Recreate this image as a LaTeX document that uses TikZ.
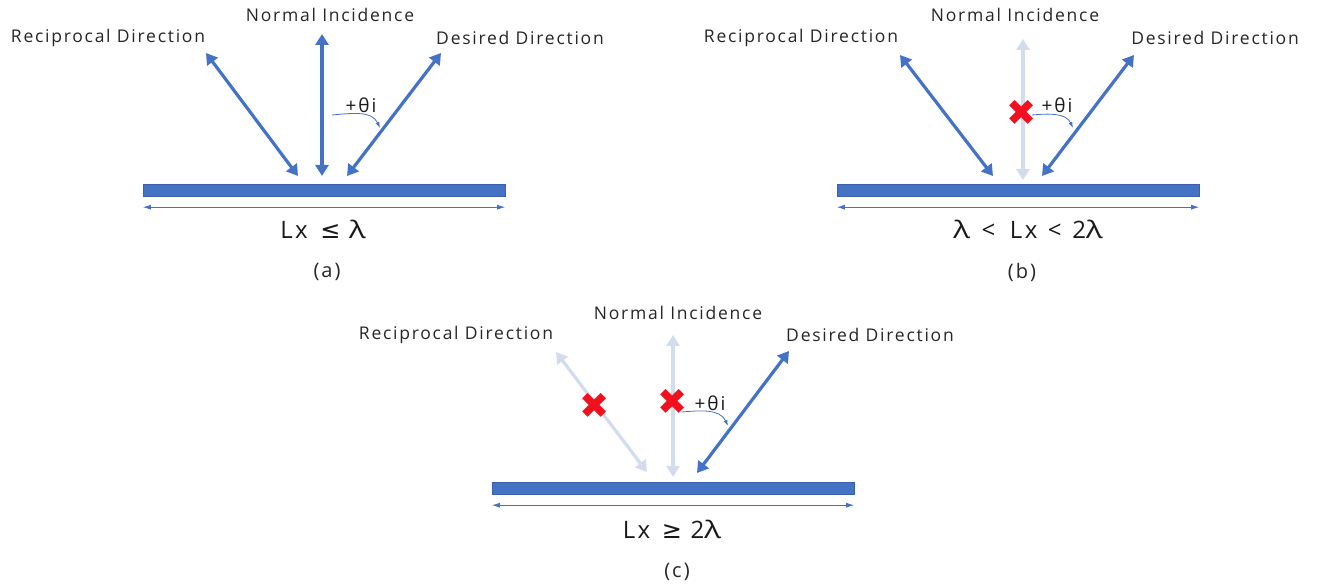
\documentclass[tikz,border=0pt]{standalone}
\usepackage{fontspec}
\setmainfont{Open Sans}
\newfontfamily\spacedfont[LetterSpace=10]{Open Sans}
\newfontfamily\dvsfont{DejaVu Sans}
\usetikzlibrary{arrows.meta, positioning}

\definecolor{barblue}{HTML}{4472C4}
\definecolor{fadeblue}{HTML}{D3DCEC}
\definecolor{crossred}{HTML}{F0101E}

\newcommand{\widelam}{\scalebox{1.3}[1]{λ}}

\begin{document}
\begin{tikzpicture}[
  x=1pt, y=1pt,
  bar/.style={rectangle, fill=barblue, draw=barblue!85!black, line width=0.4pt, minimum width=362pt, minimum height=12pt, inner sep=0pt},
  ray/.style={{Triangle[length=11pt,width=13pt]}-{Triangle[length=11pt,width=13pt]}, line width=3.2pt, barblue},
  blocked/.style={ray, fadeblue},
  dimline/.style={{Latex[length=8pt,width=5pt]}-{Latex[length=8pt,width=5pt]}, line width=0.9pt, barblue},
  swing/.style={-{Latex[length=6pt,width=4pt]}, line width=0.8pt, barblue},
  dirlabel/.style={font=\spacedfont\fontsize{17.5}{20}\selectfont, text=black!85},
  anglabel/.style={font=\spacedfont\fontsize{19}{22}\selectfont, text=black!90},
  caseline/.style={font=\spacedfont\fontsize{24}{28}\selectfont, text=black!90},
  caption/.style={font=\spacedfont\fontsize{20}{24}\selectfont, text=black!85},
  nope/.style={text=crossred, font=\dvsfont\fontsize{36}{36}\selectfont, inner sep=0pt}
]
\useasboundingbox (0,0) rectangle (1320,587);

% (a)
\begin{scope}[shift={(143,403)}]
\node[bar] (bara) at (181,-6) {};
\draw[dimline] ([yshift=-11pt]bara.south west) -- ([yshift=-11pt]bara.south east);
\node[caseline] (casea) at (180,-45) {Lx\, {\dvsfont ≤} \widelam};
\node[caption] (capa) at (184,-88) {(a)};
\coordinate (na0) at (179,8);
\coordinate (na1) at (179,150);
\coordinate (ra0) at (155,8);
\coordinate (ra1) at (63,131);
\coordinate (da0) at (204,8);
\coordinate (da1) at (298,131);
\draw[ray] (na0) -- (na1);
\draw[ray] (ra0) -- (ra1);
\draw[ray] (da0) -- (da1);
\node[dirlabel] (norma) at (187,169) {Normal Incidence};
\node[dirlabel] (recia) at (-35,146) {Reciprocal Direction};
\node[dirlabel] (desa) at (377,146) {Desired Direction};
\node[anglabel] (tha) at (218,79) {+θi};
\coordinate (swa0) at (189,69);
\coordinate (swa1) at (237,56);
\draw[swing] (swa0) to[out=5, in=115] (swa1);
\end{scope}

% (b)
\begin{scope}[shift={(837,403)}]
\node[bar] (barb) at (181,-6) {};
\draw[dimline] ([yshift=-11pt]barb.south west) -- ([yshift=-11pt]barb.south east);
\node[caseline] (caseb) at (191,-45) {\widelam\hspace{3pt} < \hspace{6pt}Lx\hspace{2pt} < \hspace{2pt}2\widelam};
\node[caption] (capb) at (185,-88) {(b)};
\coordinate (nb0) at (186,4);
\coordinate (nb1) at (186,145);
\coordinate (rb0) at (156,8);
\coordinate (rb1) at (63,129);
\coordinate (db0) at (205,8);
\coordinate (db1) at (297,129);
\draw[blocked] (nb0) -- (nb1);
\draw[ray] (rb0) -- (rb1);
\draw[ray] (db0) -- (db1);
\node[dirlabel] (normb) at (178,169) {Normal Incidence};
\node[dirlabel] (recib) at (-36,146) {Reciprocal Direction};
\node[dirlabel] (desb) at (378,146) {Desired Direction};
\node[anglabel] (thb) at (220,79) {+θi};
\coordinate (swb0) at (195,69);
\coordinate (swb1) at (236,56);
\draw[swing] (swb0) to[out=5, in=115] (swb1);
\node[nope] (xb) at (185,71) {✖};
\end{scope}

% (c)
\begin{scope}[shift={(492,105)}]
\node[bar] (barc) at (181,-6) {};
\draw[dimline] ([yshift=-11pt]barc.south west) -- ([yshift=-11pt]barc.south east);
\node[caseline] (casec) at (180,-47) {Lx\hspace{3pt} {\dvsfont ≥} 2\widelam};
\node[caption] (capc) at (185,-90) {(c)};
\coordinate (nc0) at (181,5);
\coordinate (nc1) at (181,147);
\coordinate (rc0) at (155,10);
\coordinate (rc1) at (64,130);
\coordinate (dc0) at (205,9);
\coordinate (dc1) at (297,131);
\draw[blocked] (nc0) -- (nc1);
\draw[blocked] (rc0) -- (rc1);
\draw[ray] (dc0) -- (dc1);
\node[dirlabel] (normc) at (186,169) {Normal Incidence};
\node[dirlabel] (recic) at (-36,147) {Reciprocal Direction};
\node[dirlabel] (desc) at (378,147) {Desired Direction};
\node[anglabel] (thc) at (218,79) {+θi};
\coordinate (swc0) at (190,70);
\coordinate (swc1) at (236,56);
\draw[swing] (swc0) to[out=5, in=115] (swc1);
\node[nope] (xcn) at (181,80) {✖};
\node[nope] (xcr) at (103,76) {✖};
\end{scope}
\end{tikzpicture}
\end{document}
